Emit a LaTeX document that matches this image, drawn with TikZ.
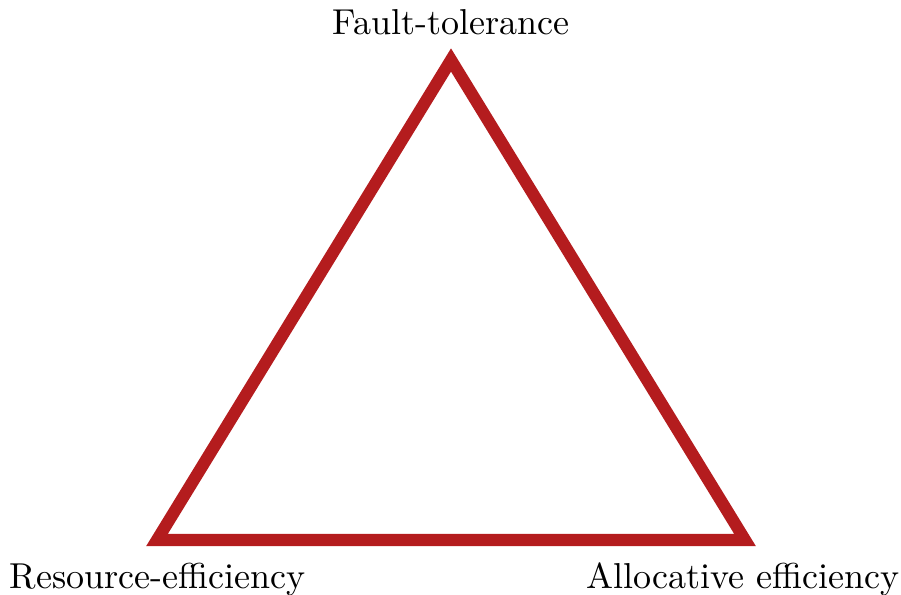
\documentclass[tikz,border=0pt]{standalone}
\usepackage{xcolor}
\usepackage{tikz}
\usetikzlibrary{positioning}
\definecolor{triared}{RGB}{180, 28, 30}

\begin{document}
\begin{tikzpicture}[
    x=0.297pt, y=0.297pt,
    side/.style={draw=triared, line width=3.6pt, line join=miter},
    corner/.style={anchor=base, inner sep=0pt, font=\fontsize{10.7pt}{13pt}\selectfont}
]
\useasboundingbox (0, 0) rectangle (901, 595);

\coordinate (top) at (451, 535);
\coordinate (left) at (157, 55);
\coordinate (right) at (745, 55);

\draw[side] (top) -- (left) -- (right) -- cycle;

\node[corner] (fault) at (451, 560) {Fault-tolerance};
\node[corner] (resource) at (157.5, 7) {Resource-efficiency};
\node[corner] (alloc) at (743, 7) {Allocative efficiency};

\end{tikzpicture}
\end{document}
